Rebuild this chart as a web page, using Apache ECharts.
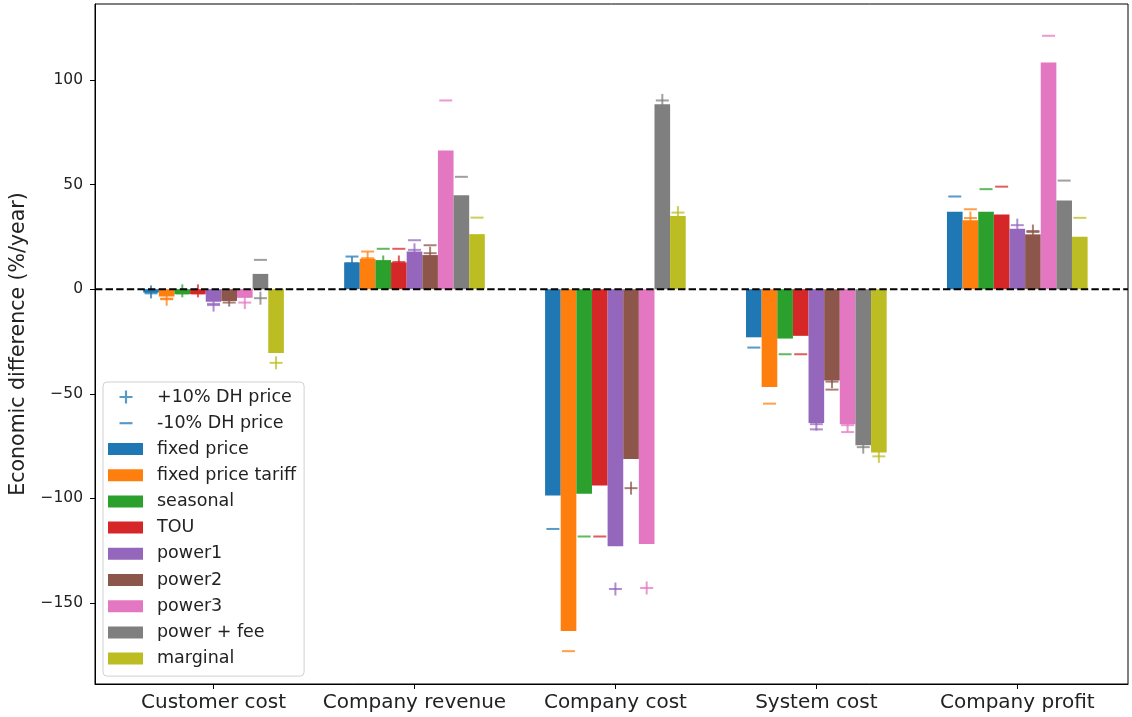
<!DOCTYPE html>
<html>
<head>
<meta charset="utf-8">
<script src="https://cdn.jsdelivr.net/npm/echarts@6/dist/echarts.min.js"></script>
<style>
  html, body { margin: 0; padding: 0; background: #fff; }
  #main { width: 1132px; height: 717px; }
</style>
</head>
<body>
<div id="main"></div>
<script>
// categories on the x axis
const categories = ['Customer cost', 'Company revenue', 'Company cost', 'System cost', 'Company profit'];
// pricing schemes (one bar each per category)
const schemes = ['fixed price', 'fixed price tariff', 'seasonal', 'TOU', 'power1', 'power2', 'power3', 'power + fee', 'marginal'];
const yTicks = [-150, -100, -50, 0, 50, 100];

// base case, per scheme, over categories
const baseValues = [
  [-1.6, 12.8, -98.6, -23.0, 37.0],
  [-3.5, 14.5, -163.4, -46.8, 32.9],
  [-2.4, 13.9, -97.8, -23.6, 37.0],
  [-2.4, 12.8, -93.8, -22.3, 35.7],
  [-6.0, 18.0, -122.9, -64.0, 28.9],
  [-5.6, 16.3, -81.2, -43.7, 26.2],
  [-4.1, 66.3, -121.8, -64.6, 108.4],
  [7.3, 44.9, 88.4, -74.6, 42.4],
  [-30.5, 26.3, 35.0, -78.0, 25.0]
];
// +10% DH price
const plusValues = [
  [-1.3, 12.3, -85, -18, 31],
  [-4.8, 14.8, -150, -40, 34],
  [-0.8, 13.0, -85, -19, 31],
  [-0.8, 13.0, -80, -16, 30],
  [-7.6, 18.8, -143.3, -64.5, 30.6],
  [-5.2, 17.2, -95.1, -44.2, 27.8],
  [-6.4, 50, -142.8, -65, 95],
  [-4.3, 40, 90.2, -75.5, 38],
  [-35.2, 22, 36.6, -79.9, 21]
];
// -10% DH price
const minusValues = [
  [-2.0, 15.6, -114.6, -27.9, 44.3],
  [-4.5, 18.0, -173.0, -54.7, 38.2],
  [-2.0, 19.3, -118.2, -31.1, 47.8],
  [-2.0, 19.3, -118.2, -31.1, 49.0],
  [-7.0, 23.4, -105, -67.0, 25],
  [-6.4, 21.0, -70, -48.0, 27.3],
  [-3.5, 90.2, -105, -68.3, 121.1],
  [14.0, 53.7, 85, -70, 51.9],
  [-28, 34.2, 33, -72, 34.1]
];

const colors = ['#1f77b4', '#ff7f0e', '#2ca02c', '#d62728', '#9467bd', '#8c564b', '#e377c2', '#7f7f7f', '#bcbd22'];
const barW = 0.7 / 9;
const font = 'DejaVu Sans';

function barRender(i) {
  return function (params, api) {
    const k = api.value(0);
    const x = k + (i - 4) * barW;
    const p0 = api.coord([x - barW / 2, 0]);
    const p1 = api.coord([x + barW / 2, api.value(1)]);
    return {
      type: 'rect',
      shape: { x: p0[0], y: Math.min(p0[1], p1[1]), width: p1[0] - p0[0], height: Math.abs(p1[1] - p0[1]) },
      style: api.style()
    };
  };
}

function markerRender(plus) {
  return function (params, api) {
    const k = api.value(0);
    const i = api.value(1);
    const c = api.coord([k + (i - 4) * barW, api.value(2)]);
    const st = { stroke: colors[i], lineWidth: 2, opacity: 0.75 };
    const kids = [{ type: 'line', shape: { x1: c[0] - 6.5, y1: c[1], x2: c[0] + 6.5, y2: c[1] }, style: st }];
    if (plus) {
      kids.push({ type: 'line', shape: { x1: c[0], y1: c[1] - 6.5, x2: c[0], y2: c[1] + 6.5 }, style: st });
    }
    return { type: 'group', children: kids };
  };
}

function markerData(vals) {
  const out = [];
  vals.forEach((row, i) => row.forEach((v, k) => out.push([k, i, v])));
  return out;
}

const series = [];
series.push({
  name: '+10% DH price', type: 'custom', z: 1,
  itemStyle: { color: '#1f77b4', opacity: 0.75 },
  encode: { x: 0, y: 2 },
  renderItem: markerRender(true),
  data: markerData(plusValues)
});
series.push({
  name: '-10% DH price', type: 'custom', z: 1,
  itemStyle: { color: '#1f77b4', opacity: 0.75 },
  encode: { x: 0, y: 2 },
  renderItem: markerRender(false),
  data: markerData(minusValues)
});
schemes.forEach((name, i) => {
  series.push({
    name: name, type: 'custom', z: 2,
    itemStyle: { color: colors[i] },
    encode: { x: 0, y: 1 },
    renderItem: barRender(i),
    data: baseValues[i].map((v, k) => [k, v])
  });
});
// dashed zero line across the plot
series.push({
  name: 'zero', type: 'custom', z: 5, silent: true,
  encode: { x: 0, y: 1 },
  data: [[0, 0]],
  renderItem: function (params, api) {
    const cs = params.coordSys;
    const y = api.coord([0, 0])[1];
    return {
      type: 'line',
      shape: { x1: cs.x, y1: y, x2: cs.x + cs.width, y2: y },
      style: { stroke: '#000', lineWidth: 2, lineDash: [7.4, 3.2] }
    };
  }
});

const legendText = { fontFamily: font, fontSize: 17.5, color: '#222', lineHeight: 20 };

const chart = echarts.init(document.getElementById('main'), null, { renderer: 'canvas' });
chart.setOption({
  animation: false,
  textStyle: { fontFamily: font },
  grid: { left: 95, right: 4, top: 4, bottom: 33, show: true, borderColor: '#000', borderWidth: 1 },
  legend: [
    {
      data: [
        { name: '+10% DH price', icon: 'path://M5,0h2v5h5v2h-5v5h-2v-5h-5v-2h5z' },
        { name: '-10% DH price', icon: 'path://M0,0M12,12M0,5h12v2h-12z' }
      ],
      orient: 'vertical', left: 119.5, top: 387, padding: 0,
      itemWidth: 13, itemHeight: 13, itemGap: 6.2,
      textStyle: Object.assign({ padding: [0, 0, 0, 19.5] }, legendText),
      z: 10
    },
    {
      data: schemes,
      icon: 'rect',
      orient: 'vertical', left: 103, top: 382, padding: [57, 8, 7.5, 5],
      itemWidth: 35, itemHeight: 12, itemGap: 6.2,
      borderColor: '#d0d0d0', borderWidth: 1, borderRadius: 4,
      backgroundColor: 'rgba(255,255,255,0.8)',
      textStyle: Object.assign({ padding: [0, 0, 0, 9] }, legendText),
      z: 9
    }
  ],
  xAxis: {
    type: 'value', min: -0.59, max: 4.551,
    splitLine: { show: false },
    axisLine: { show: true, onZero: false, lineStyle: { color: '#000' } },
    axisTick: { show: true, length: 5, customValues: [0, 1, 2, 3, 4], lineStyle: { color: '#000' } },
    axisLabel: {
      customValues: [0, 1, 2, 3, 4], margin: 9,
      fontFamily: font, fontSize: 20, color: '#222',
      formatter: v => categories[Math.round(v)]
    }
  },
  yAxis: {
    type: 'value', min: -188.7, max: 136.3,
    name: 'Economic difference (%/year)',
    nameLocation: 'middle', nameGap: 60, nameRotate: 90,
    nameTextStyle: { fontFamily: font, fontSize: 20.5, color: '#222' },
    splitLine: { show: false },
    axisLine: { show: true, onZero: false, lineStyle: { color: '#000' } },
    axisTick: { show: true, length: 5, customValues: yTicks, lineStyle: { color: '#000' } },
    axisLabel: {
      customValues: yTicks, margin: 12,
      fontFamily: font, fontSize: 15.5, color: '#222',
      formatter: v => String(v).replace('-', '\u2212')
    }
  },
  series: series
});
</script>
</body>
</html>
